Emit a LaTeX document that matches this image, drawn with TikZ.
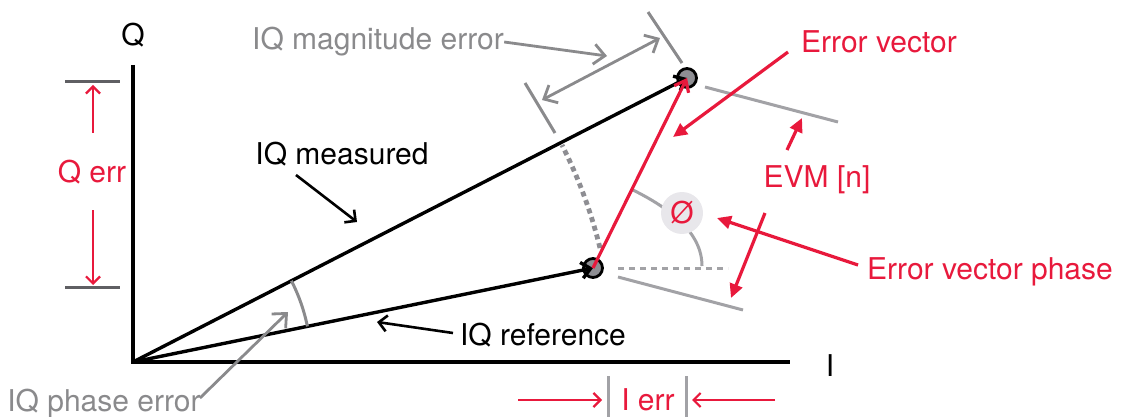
\documentclass[tikz,border=0pt]{standalone}
\usepackage{fontspec}
\setmainfont{TeX Gyre Heros}
\usetikzlibrary{arrows.meta, positioning, calc}
\definecolor{iqRed}{HTML}{E8193C}
\definecolor{iqGray}{HTML}{A2A2A6}
\definecolor{iqText}{HTML}{8A8A8C}
\definecolor{iqTick}{HTML}{5F5F63}
\definecolor{iqDot}{HTML}{8E8E93}
\definecolor{iqLight}{HTML}{E8E7EB}
\tikzset{
  iqaxis/.style={line width=2pt, black},
  iqvec/.style={-{Straight Barb[length=4.5pt, width=8pt]}, line width=1.7pt, black},
  iqerrvec/.style={-{Straight Barb[length=5pt, width=8pt]}, line width=1.6pt, color=iqRed},
  iqdot/.style={circle, draw=black, line width=1.4pt, fill=iqDot, minimum size=9.5pt, inner sep=0pt},
  iqlabel/.style={font=\fontsize{15}{18}\selectfont, inner sep=0pt},
  iqpoint/.style={-{Straight Barb[length=4pt, width=8pt]}, line width=1.3pt, black},
  iqgrayarrow/.style={-{Straight Barb[length=5.5pt, width=10pt]}, line width=1.4pt, color=iqText},
  iqredarrow/.style={-{Triangle[length=7pt, width=6.5pt]}, line width=1.6pt, color=iqRed},
  iqthin/.style={-{Straight Barb[length=3.5pt, width=7pt]}, line width=1.1pt, color=iqRed},
  iqguide/.style={line width=1.5pt, color=iqGray},
  iqtick/.style={line width=1.5pt, color=iqTick},
}

\begin{document}
\begin{tikzpicture}[x=0.5pt, y=-0.5pt]
  \useasboundingbox (0,0) rectangle (1125,417);
  \coordinate (O) at (133,362);
  % axes
  \coordinate (qtop) at (133,65);
  \coordinate (iend) at (790,362);
  \draw[iqaxis] (qtop) -- (O) -- (iend);
  \node[iqlabel] (qlbl) at (133,35) {Q};
  \node[iqlabel] (ilbl) at (830,366) {I};
  % magnitude arc and markers
  \draw[line width=2.4pt, color=iqDot, dash pattern=on 2.5pt off 2pt]
    (600,248) arc[start angle=-13.72, end angle=-26.83, radius=480.7];
  \coordinate (magA1) at (525,83);  \coordinate (magA2) at (555,133);
  \coordinate (magB1) at (648,12);  \coordinate (magB2) at (682,63);
  \draw[iqguide, color=iqText] (magA1) -- (magA2);
  \draw[iqguide, color=iqText] (magB1) -- (magB2);
  \coordinate (magL) at (542,100);  \coordinate (magR) at (660,38);
  \draw[iqgrayarrow, {Straight Barb[length=5.5pt, width=10pt]}-{Straight Barb[length=5.5pt, width=10pt]}] (magL) -- (magR);
  \node[iqlabel, text=iqText] (maglbl) at (378,42) {IQ magnitude error};
  \coordinate (magtip) at (607,56);
  \draw[iqgrayarrow] (maglbl.east) -- (magtip);
  % EVM guides
  \coordinate (evmA1) at (705,87);  \coordinate (evmA2) at (838,122);
  \coordinate (evmB1) at (618,277); \coordinate (evmB2) at (743,310);
  \draw[iqguide] (evmA1) -- (evmA2);
  \draw[iqguide] (evmB1) -- (evmB2);
  % phase angle at the reference point
  \coordinate (phA) at (633,190);
  \coordinate (phB) at (702,266);
  \draw[iqguide] (phA) .. controls (669,208) and (702,232) .. (phB);
  \coordinate (hzA) at (618,268);
  \coordinate (hzB) at (728,268);
  \draw[iqguide, dash pattern=on 3pt off 2.5pt] (hzA) -- (hzB);
  \node[circle, fill=iqLight, minimum size=21pt, inner sep=0pt, text=iqRed,
        font=\fontsize{15}{18}\selectfont] (phi) at (682,213) {Ø};
  % vectors
  \node[iqdot] (ref) at (593,268) {};
  \node[iqdot] (meas) at (687,78) {};
  \draw[iqvec] (O) -- (ref.center);
  \draw[iqvec] (O) -- (meas.center);
  \draw[iqerrvec] (ref.center) -- (meas.center);
  % phase error
  \draw[iqguide, color=iqText] (307.4,326.4) arc[start angle=-11.55, end angle=-27.14, radius=178];
  \node[iqlabel, text=iqText] (phlbl) at (104,404) {IQ phase error};
  \coordinate (phstart) at (200,398);
  \coordinate (phtip) at (288,312);
  \draw[iqgrayarrow] (phstart) -- (phtip);
  % black labels
  \node[iqlabel] (measlbl) at (342,154) {IQ measured};
  \coordinate (measA) at (296,175); \coordinate (measB) at (357,222);
  \draw[iqpoint] (measA) -- (measB);
  \node[iqlabel] (reflbl) at (543,335) {IQ reference};
  \coordinate (refA) at (453,333); \coordinate (refB) at (377,322);
  \draw[iqpoint] (refA) -- (refB);
  % red labels
  \node[iqlabel, text=iqRed] (evlbl) at (879,42) {Error vector};
  \coordinate (evA) at (788,52); \coordinate (evB) at (673,137);
  \draw[iqredarrow] (evA) -- (evB);
  \node[iqlabel, text=iqRed] (evmlbl) at (817,180) {EVM [n]};
  \coordinate (evmU1) at (787,150); \coordinate (evmU2) at (802,118);
  \coordinate (evmD1) at (765,213); \coordinate (evmD2) at (731,298);
  \draw[iqredarrow] (evmU1) -- (evmU2);
  \draw[iqredarrow] (evmD1) -- (evmD2);
  \node[iqlabel, text=iqRed] (evplbl) at (990,272) {Error vector phase};
  \coordinate (evpA) at (858,265); \coordinate (evpB) at (717,218);
  \draw[iqredarrow] (evpA) -- (evpB);
  % Q err
  \coordinate (qt1) at (65,82);  \coordinate (qt2) at (120,82);
  \coordinate (qb1) at (65,287); \coordinate (qb2) at (120,287);
  \draw[iqtick] (qt1) -- (qt2);
  \draw[iqtick] (qb1) -- (qb2);
  \node[iqlabel, text=iqRed] (qerr) at (92,172) {Q err};
  \coordinate (qupA) at (93,133); \coordinate (qupB) at (93,85);
  \coordinate (qdnA) at (93,210); \coordinate (qdnB) at (93,285);
  \draw[iqthin] (qupA) -- (qupB);
  \draw[iqthin] (qdnA) -- (qdnB);
  % I err
  \coordinate (il1) at (608,376); \coordinate (il2) at (608,417);
  \coordinate (ir1) at (686,376); \coordinate (ir2) at (686,417);
  \draw[iqtick, color=iqGray] (il1) -- (il2);
  \draw[iqtick, color=iqGray] (ir1) -- (ir2);
  \node[iqlabel, text=iqRed] (ierr) at (648,400) {I err};
  \coordinate (ilA) at (518,400); \coordinate (ilB) at (602,400);
  \coordinate (irA) at (775,400); \coordinate (irB) at (692,400);
  \draw[iqthin] (ilA) -- (ilB);
  \draw[iqthin] (irA) -- (irB);
\end{tikzpicture}
\end{document}
